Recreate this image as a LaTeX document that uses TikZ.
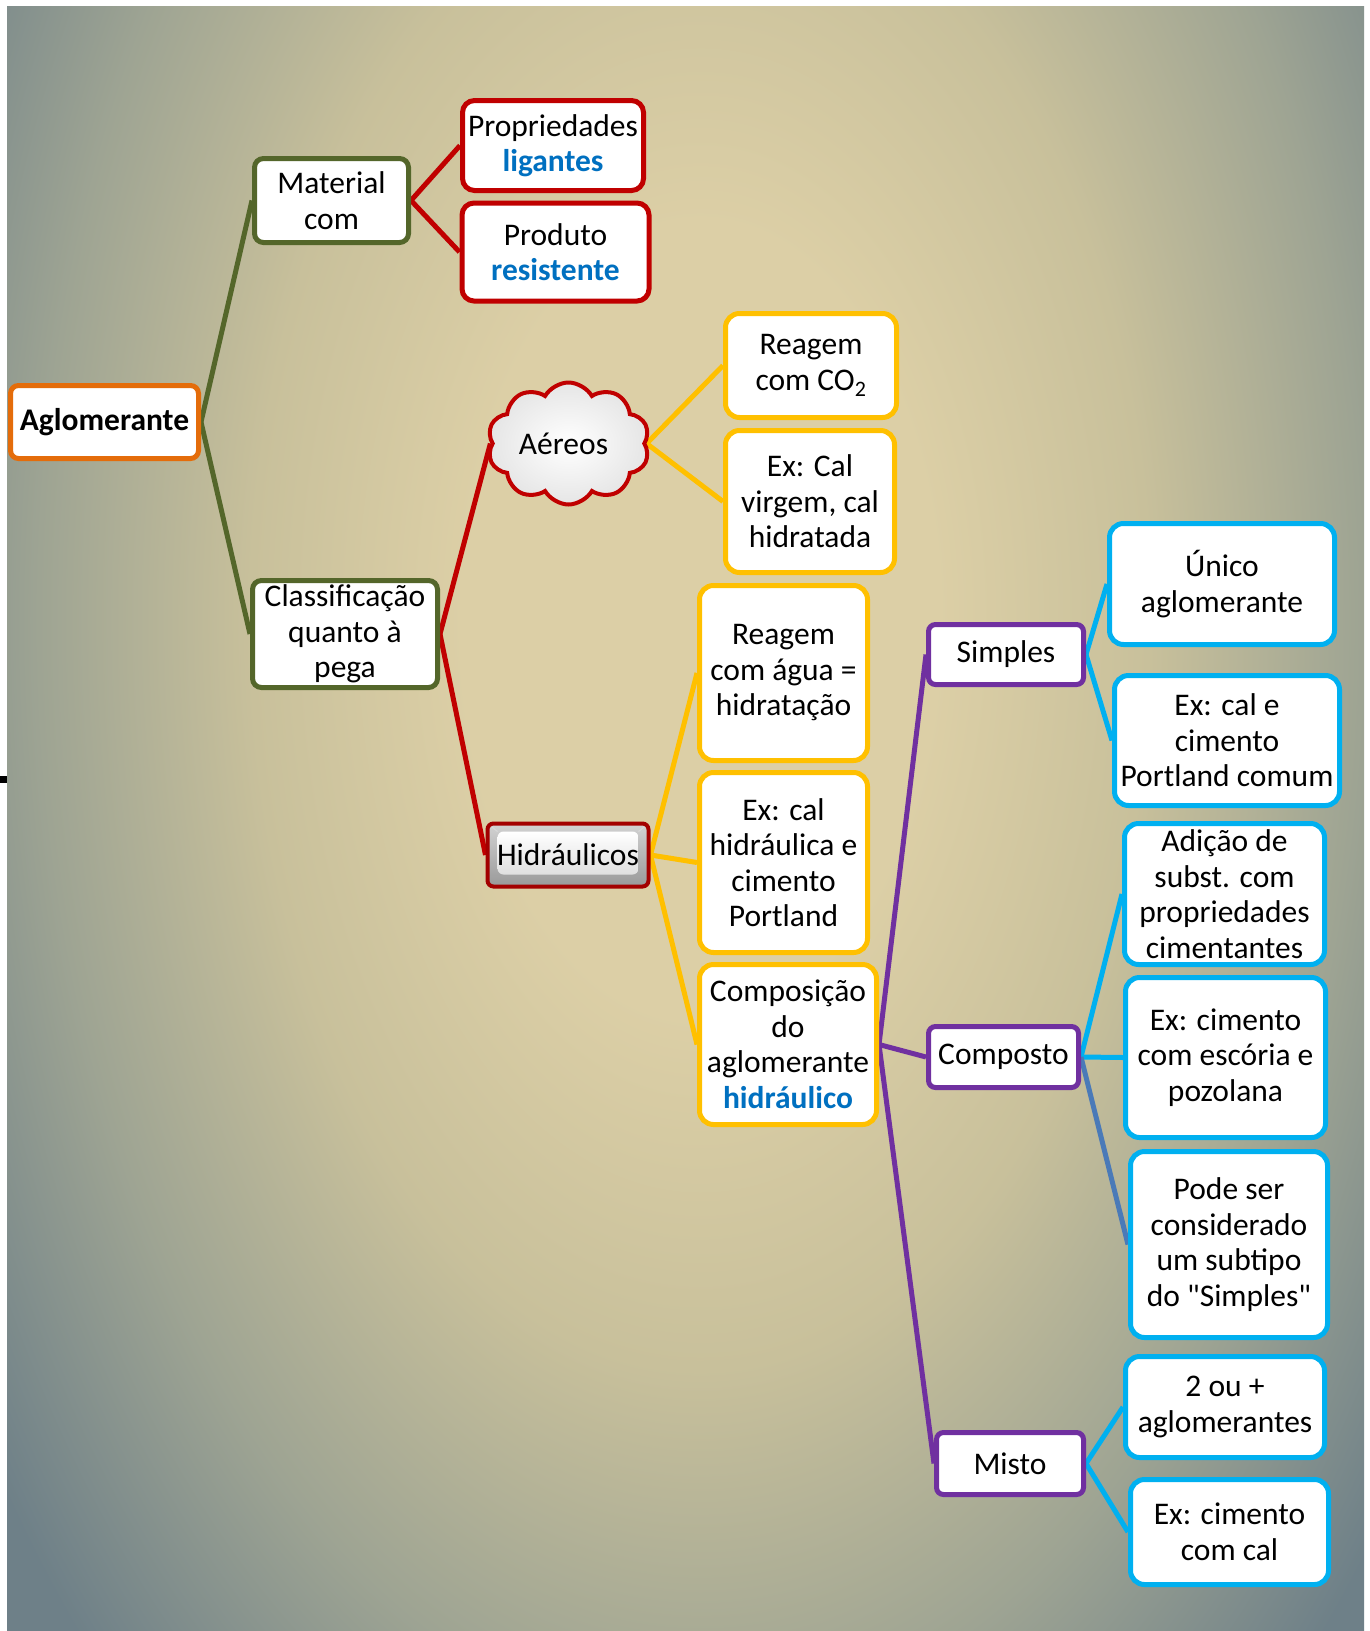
\documentclass[tikz,border=0pt]{standalone}
\usepackage{fontspec}
\setmainfont{Carlito}[Ligatures=TeXOff]
\usetikzlibrary{shapes.symbols}
\definecolor{cGreen}{RGB}{84,102,42}
\definecolor{cRed}{RGB}{192,0,0}
\definecolor{cOrange}{RGB}{228,108,10}
\definecolor{cYellow}{RGB}{255,192,0}
\definecolor{cPurple}{RGB}{112,48,160}
\definecolor{cCyan}{RGB}{0,176,240}
\definecolor{cSteel}{RGB}{74,122,184}
\definecolor{cBlue}{RGB}{0,112,192}
\definecolor{bgA}{RGB}{220,207,166}
\definecolor{bgB}{RGB}{200,192,155}
\definecolor{bgC}{RGB}{158,164,147}
\definecolor{bgD}{RGB}{110,128,136}
\pgfdeclareradialshading{bgshade}{\pgfpoint{0bp}{0bp}}{color(0bp)=(bgA); color(7.6bp)=(bgA); color(14.4bp)=(bgB); color(21.2bp)=(bgC); color(27.9bp)=(bgD); color(50bp)=(bgD)}
\pgfdeclarelayer{bg}
\pgfsetlayers{bg,main}
\newcommand\hl[1]{{\bfseries\color{cBlue}#1}}
\tikzset{
  txt/.style={font=\fontsize{31.5}{35.5}\selectfont, align=center, inner sep=0pt, text=black},
  box/.style={txt, draw, fill=white, line width=5pt, rounded corners=12pt},
  gbox/.style={box, draw=cGreen, rounded corners=9pt},
  rbox/.style={box, draw=cRed},
  obox/.style={box, draw=cOrange, rounded corners=8pt},
  ybox/.style={box, draw=cYellow, rounded corners=14pt},
  pbox/.style={box, draw=cPurple, rounded corners=7pt},
  cbox/.style={box, draw=cCyan, rounded corners=14pt},
  conn/.style={line width=5pt},
}
\begin{document}
\begin{tikzpicture}[x=1pt,y=-1pt]
\useasboundingbox (0,0) rectangle (1370,1631);

% nodes
\node[obox, minimum width=188pt, minimum height=73pt] (ag) at (104.5,422) {\bfseries Aglomerante};
\node[gbox, minimum width=154pt, minimum height=84pt] (mat) at (331.5,200.5) {Material\\com};
\node[gbox, minimum width=185pt, minimum height=107pt] (cla) at (345,634) {Classificação\\quanto à\\pega};
\node[rbox, minimum width=181pt, minimum height=90pt] (prop) at (553,145.5) {Propriedades\\\hl{ligantes}};
\node[rbox, minimum width=187pt, minimum height=98pt] (prod) at (555.5,252) {Produto\\\hl{resistente}};
\node[txt, cloud, cloud puffs=10, cloud puff arc=120, cloud ignores aspect,
      minimum width=162pt, minimum height=122pt, draw=cRed, line width=4pt,
      inner color=white, outer color=gray!20] (aer) at (568.5,443.5) {Aéreos\hspace*{10pt}};
\node[txt, minimum width=161pt, minimum height=63pt, draw=cRed!85!black, line width=4pt, rounded corners=6pt,
      top color=gray!35, bottom color=gray!80,
      path picture={
        \draw[gray!30, line width=1pt] (path picture bounding box.north west) -- ([shift={(10pt,-8pt)}]path picture bounding box.north west);
        \draw[gray!30, line width=1pt] (path picture bounding box.north east) -- ([shift={(-10pt,-8pt)}]path picture bounding box.north east);
        \shade[top color=white, bottom color=gray!25] ([shift={(10pt,-8pt)}]path picture bounding box.north west) rectangle ([shift={(-10pt,12pt)}]path picture bounding box.south east);
      }] (hid) at (568,855) {Hidráulicos};
\node[ybox, minimum width=171pt, minimum height=104pt] (co2) at (811,365.5) {Reagem\\com CO\textsubscript{2}};
\node[ybox, minimum width=169pt, minimum height=142pt] (excal) at (810,501.5) {Ex: Cal\\virgem, cal\\hidratada};
\node[ybox, minimum width=168pt, minimum height=175pt] (agua) at (783.5,673) {Reagem\\com água =\\hidratação};
\node[ybox, minimum width=168pt, minimum height=180pt] (exhid) at (783.5,862.5) {Ex: cal\\hidráulica e\\cimento\\Portland};
\node[ybox, minimum width=177pt, minimum height=160pt] (comp) at (788,1044.5) {Composição\\do\\aglomerante\\\hl{hidráulico}};
\node[pbox, minimum width=155pt, minimum height=60pt] (simp) at (1006,654.5) {Simples};
\node[pbox, minimum width=150pt, minimum height=61pt] (compo) at (1003.5,1057) {Composto};
\node[pbox, minimum width=147pt, minimum height=62pt] (misto) at (1010,1463.5) {Misto};
\node[cbox, minimum width=225pt, minimum height=121pt] (unico) at (1222,584) {Único\\aglomerante};
\node[cbox, minimum width=225pt, minimum height=130pt] (excale) at (1227,740.5) {Ex: cal e\\cimento\\Portland comum};
\node[cbox, minimum width=200pt, minimum height=141pt] (adic) at (1224.5,894) {Adição de\\subst. com\\propriedades\\cimentantes};
\node[cbox, minimum width=200pt, minimum height=160pt] (exesc) at (1225.5,1057.5) {Ex: cimento\\com escória e\\pozolana};
\node[cbox, minimum width=197pt, minimum height=186pt] (pode) at (1229,1244.5) {Pode ser\\considerado\\um subtipo\\do "Simples"};
\node[cbox, minimum width=199pt, minimum height=101pt] (dois) at (1225,1407) {2 ou +\\aglomerantes};
\node[cbox, minimum width=198pt, minimum height=105pt] (excc) at (1229.5,1532) {Ex: cimento\\com cal};

\begin{pgfonlayer}{bg}
  \fill[white] (0,0) rectangle (1370,1631);
  \begin{scope}
    \clip (7,6) rectangle (1364,1631);
    \fill[bgD] (7,6) rectangle (1364,1631);
    \begin{scope}[transform canvas={xscale=0.6}]
      \shade[shading=bgshade] (-133,-680) rectangle (2467,1920);
    \end{scope}
  \end{scope}
  \fill[black] (0,776) rectangle (7,783);
  % connectors
  \draw[conn, cGreen] (ag.east) -- (mat.west);
  \draw[conn, cGreen] (ag.east) -- (cla.west);
  \draw[conn, cRed] (mat.east) -- (prop.west);
  \draw[conn, cRed] (mat.east) -- (prod.west);
  \draw[conn, cRed] (cla.east) -- (aer.west);
  \draw[conn, cRed] (cla.east) -- (hid.west);
  \draw[conn, cYellow] (aer.east) -- (co2.west);
  \draw[conn, cYellow] (aer.east) -- (excal.west);
  \draw[conn, cYellow] (hid.east) -- (agua.west);
  \draw[conn, cYellow] (hid.east) -- (exhid.west);
  \draw[conn, cYellow] (hid.east) -- (comp.west);
  \draw[conn, cPurple] (comp.east) -- (simp.west);
  \draw[conn, cPurple] (comp.east) -- (compo.west);
  \draw[conn, cPurple] (comp.east) -- (misto.west);
  \draw[conn, cCyan] (simp.east) -- (unico.west);
  \draw[conn, cCyan] (simp.east) -- (excale.west);
  \draw[conn, cCyan] (compo.east) -- (adic.west);
  \draw[conn, cCyan] (compo.east) -- (exesc.west);
  \draw[conn, cSteel] (compo.east) -- (pode.west);
  \draw[conn, cCyan] (misto.east) -- (dois.west);
  \draw[conn, cCyan] (misto.east) -- (excc.west);
\end{pgfonlayer}
\end{tikzpicture}
\end{document}
